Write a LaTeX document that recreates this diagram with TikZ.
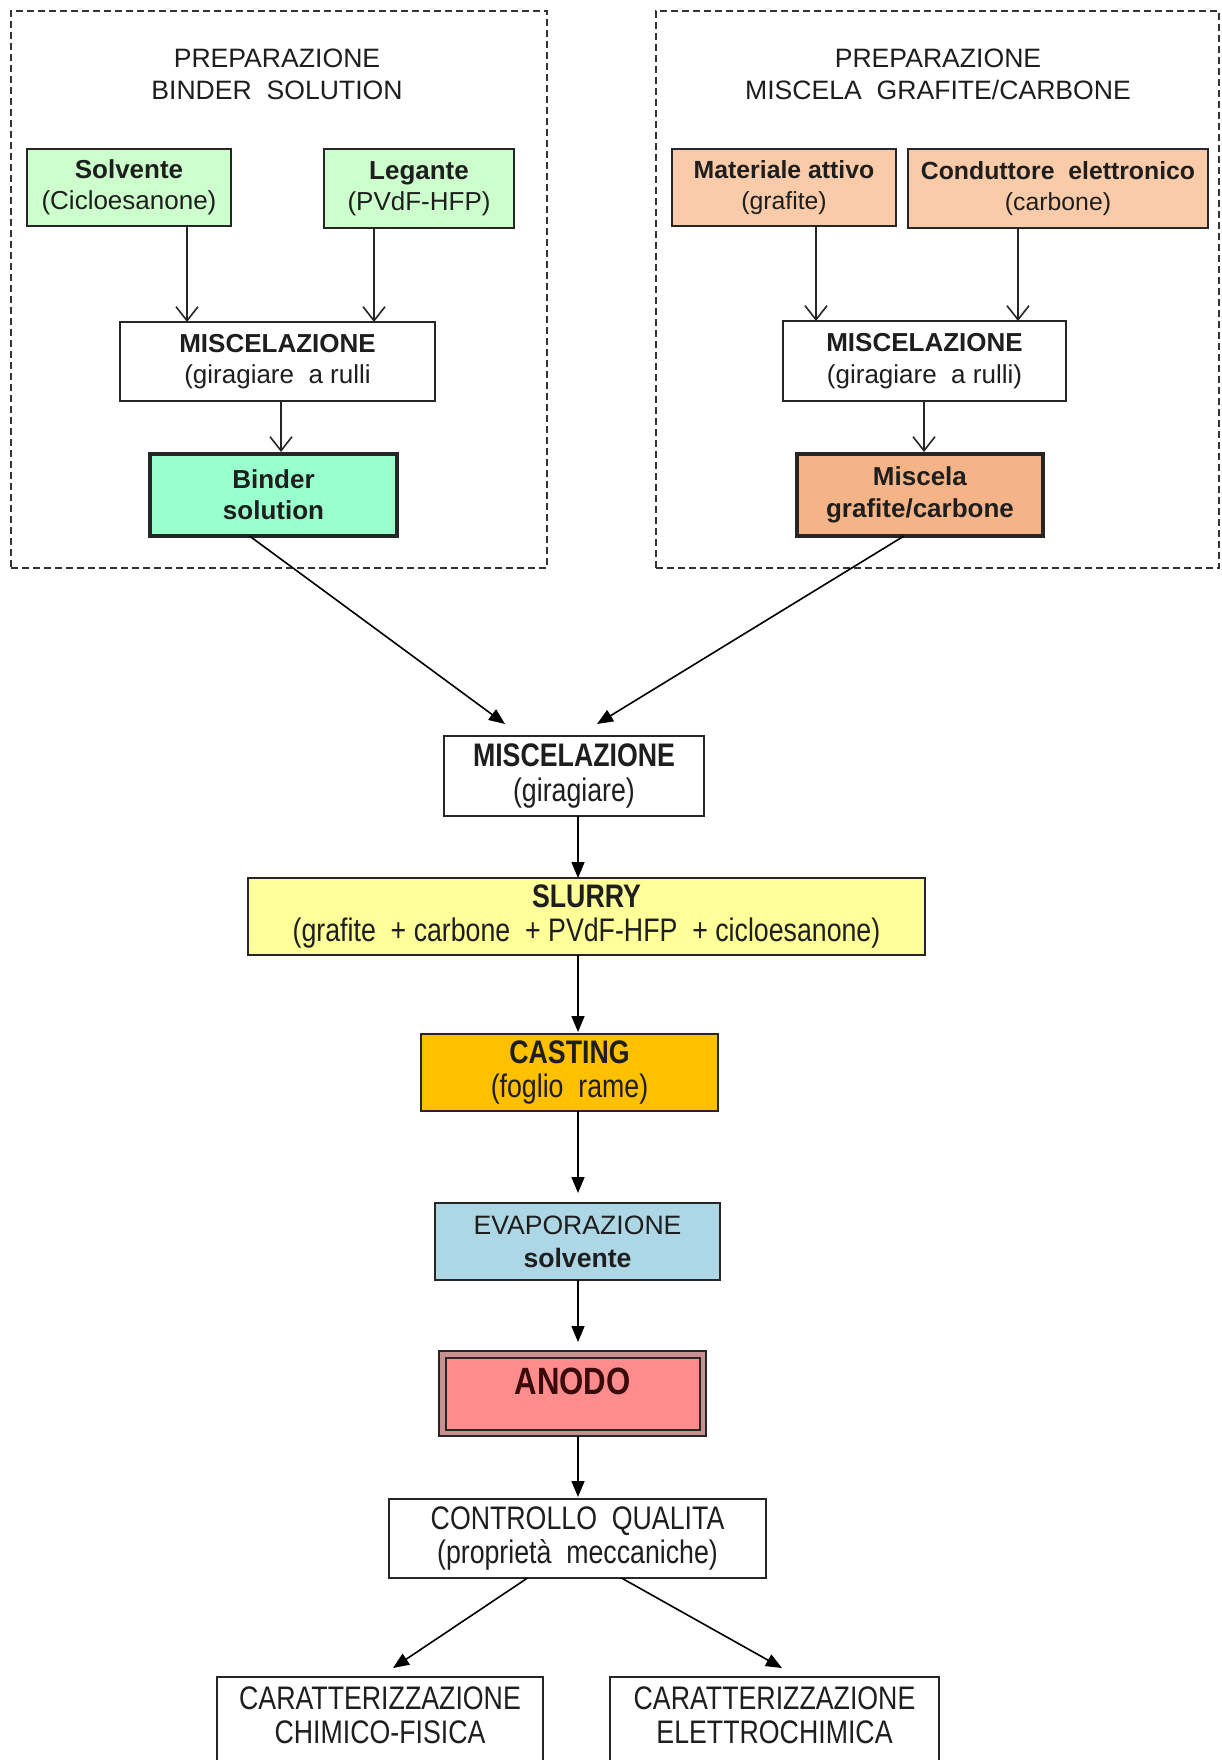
\documentclass[tikz,border=0pt]{standalone}
\usepackage{fontspec}
\setmainfont{Liberation Sans}
\newfontfamily\narrowfam[FakeStretch=0.82]{Liberation Sans}
\usetikzlibrary{arrows.meta,calc}
\definecolor{cgreen}{HTML}{CCFFCC}
\definecolor{cbinder}{HTML}{99FFCC}
\definecolor{cpeach}{HTML}{F9CBA8}
\definecolor{cmisc}{HTML}{F5B487}
\definecolor{cslurry}{HTML}{FFFF99}
\definecolor{ccast}{HTML}{FFC000}
\definecolor{cevap}{HTML}{AED7E6}
\definecolor{canodo}{HTML}{FF8C8C}
\definecolor{cband}{HTML}{C99090}
\definecolor{ctxt}{HTML}{1E1E1E}
\definecolor{canodotxt}{HTML}{3A0A0A}
\newcommand\ftop{\fontsize{13pt}{15.7pt}\selectfont}
\newcommand\fsmall{\fontsize{12.4pt}{15.7pt}\selectfont}
\newcommand\fnar{\narrowfam\fontsize{16.3pt}{17.2pt}\selectfont}
\begin{document}
\begin{tikzpicture}[x=0.5pt,y=-0.5pt,
  box/.style={draw=black!85, line width=0.95pt, inner sep=0pt, outer sep=0pt, align=center, font=\ftop, text=ctxt},
  nbox/.style={box, font=\fnar},
  group/.style={draw=black!80, line width=0.7pt, dash pattern=on 3.5pt off 2pt, inner sep=0pt},
  barb/.style={draw=black!85, line width=0.8pt, -{Straight Barb[length=7pt,width=11pt,line width=0.8pt]}},
  tri/.style={draw=black, line width=0.8pt, -{Triangle[length=8pt,width=6.5pt]}},
  sz/.style 2 args={minimum width=#1pt, minimum height=#2pt}]
\useasboundingbox (0,0) rectangle (1221,1760);
\fill[white] (0,0) rectangle (1221,1760);

% group frames
\node[group, sz={268}{278.5}] (gL) at (279,289.5) {};
\node[group, sz={281.5}{278.5}] (gR) at (937.5,289.5) {};
\node[align=center, font=\fontsize{13.3pt}{16.3pt}\selectfont, text=ctxt] (titL) at (277,74.5) {PREPARAZIONE\\BINDER\ \ SOLUTION};
\node[align=center, font=\fontsize{13.3pt}{16.3pt}\selectfont, text=ctxt] (titR) at (938,74.5) {PREPARAZIONE\\MISCELA\ \ GRAFITE/CARBONE};

% left group
\node[box, fill=cgreen, sz={102}{38.5}] (solv) at (129,187.5) {\textbf{Solvente}\\(Cicloesanone)};
\node[box, fill=cgreen, sz={95}{39.5}] (leg) at (419,188.5) {\textbf{Legante}\\(PVdF-HFP)};
\node[box, sz={157.5}{39.5}] (mixL) at (277.5,361.5) {\textbf{MISCELAZIONE}\\(giragiare\ \ a rulli};
\node[box, fill=cbinder, line width=2pt, sz={123.5}{41}] (binder) at (273.5,495) {\textbf{Binder}\\\textbf{solution}};

% right group
\node[box, fill=cpeach, font=\fsmall, sz={112}{38.5}] (mat) at (784,187.5) {\textbf{Materiale attivo}\\(grafite)};
\node[box, fill=cpeach, font=\fsmall, sz={150}{39.5}] (cond) at (1058,188.5) {\textbf{Conduttore\ \ elettronico}\\(carbone)};
\node[box, sz={141.5}{40}] (mixR) at (924.5,361) {\textbf{MISCELAZIONE}\\(giragiare\ \ a rulli)};
\node[box, fill=cmisc, line width=2pt, sz={123}{41}] (misc) at (920,495) {\textbf{Miscela}\\\textbf{grafite/carbone}\rule[-3pt]{0pt}{0pt}};

% central chain
\node[nbox, sz={130}{40}] (mixC) at (574,776) {\textbf{MISCELAZIONE}\\(giragiare)};
\node[nbox, fill=cslurry, sz={338.5}{38.5}] (slurry) at (586.5,916.5) {\textbf{SLURRY}\\(grafite\ \ + carbone\ \ + PVdF-HFP\ \ + cicloesanone)};
\node[nbox, fill=ccast, sz={148.5}{38.5}] (cast) at (569.5,1072.5) {\textbf{CASTING}\\(foglio\ \ rame)};
\node[box, fill=cevap, font=\fontsize{13.3pt}{16.5pt}\selectfont, sz={142.5}{38.5}] (evap) at (577.5,1241.5) {EVAPORAZIONE\\\textbf{solvente}};
\node[box, fill=cband, sz={133.5}{42.5}] (anodo) at (572.5,1393.5) {};
\draw[draw=black!85, line width=0.9pt, fill=canodo] ($(anodo.north west)+(7,7)$) rectangle ($(anodo.south east)+(-6,-6)$);
\node[font=\narrowfam\fontsize{19pt}{20pt}\selectfont\bfseries, text=canodotxt] (anodolbl) at (572.5,1381) {ANODO};
\node[nbox, sz={188.5}{39.5}] (ctrl) at (577.5,1538.5) {CONTROLLO\ \ QUALITA\\(proprietà\ \ meccaniche)};
\node[nbox, sz={163}{56.5}] (carL) at (380,1733.5) {};
\node[nbox, sz={164.5}{56.5}] (carR) at (774.5,1733.5) {};
\node[font=\fnar, align=center, text=ctxt] (carLt) at (380,1715) {CARATTERIZZAZIONE\\CHIMICO-FISICA};
\node[font=\fnar, align=center, text=ctxt] (carRt) at (774.5,1715) {CARATTERIZZAZIONE\\ELETTROCHIMICA};

% helper coordinates
\coordinate (x1) at (187,0);
\coordinate (x2) at (374,0);
\coordinate (x3) at (281,0);
\coordinate (x4) at (816,0);
\coordinate (x5) at (1018,0);
\coordinate (x6) at (924,0);
\coordinate (xc) at (578,0);
\coordinate (tL) at (505,724);
\coordinate (tR) at (597,724);
\coordinate (cL) at (393,1668);
\coordinate (cR) at (782,1668);

% top arrows (open barbs)
\draw[barb] (solv.south -| x1) -- (mixL.north -| x1);
\draw[barb] (leg.south -| x2) -- (mixL.north -| x2);
\draw[barb] (mixL.south -| x3) -- ($(binder.north -| x3)+(0,-2)$);
\draw[barb] (mat.south -| x4) -- (mixR.north -| x4);
\draw[barb] (cond.south -| x5) -- (mixR.north -| x5);
\draw[barb] (mixR.south -| x6) -- ($(misc.north -| x6)+(0,-2)$);

% central arrows (filled)
\draw[tri] ($(binder.south)+(-24,0)$) -- (tL);
\draw[tri] ($(misc.south)+(-16,0)$) -- (tR);
\draw[tri] (mixC.south -| xc) -- (slurry.north -| xc);
\draw[tri] (slurry.south -| xc) -- ($(cast.north -| xc)+(0,-2)$);
\draw[tri, shorten >=5pt] (cast.south -| xc) -- (evap.north -| xc);
\draw[tri, shorten >=4.5pt] (evap.south -| xc) -- (anodo.north -| xc);
\draw[tri] (anodo.south -| xc) -- ($(ctrl.north -| xc)+(0,-2)$);
\draw[tri] ($(ctrl.south)+(-50,0)$) -- (cL);
\draw[tri] ($(ctrl.south)+(44,0)$) -- (cR);
\end{tikzpicture}
\end{document}
